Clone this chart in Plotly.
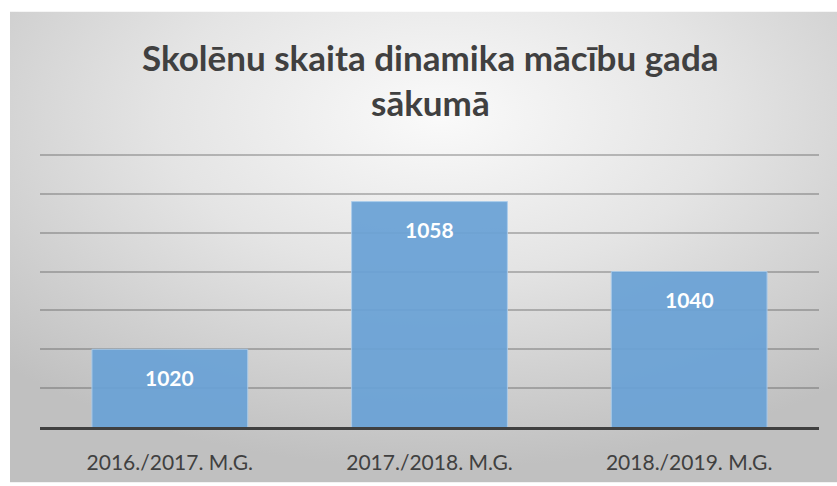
import base64
import plotly.graph_objects as go

categories = ["2016./2017. M.G.", "2017./2018. M.G.", "2018./2019. M.G."]
values = [1020, 1058, 1040]
title_line1 = "Skolēnu skaita dinamika mācību gada"
title_line2 = "sākumā"

W, H = 837, 486
L, R, T, B = 40, 18, 153, 56
pw, ph = W - L - R, H - T - B

def px_x(x):
    return (x - L) / pw

def px_y(y):
    return (H - B - y) / ph

svg = """<svg xmlns='http://www.w3.org/2000/svg' width='827' height='476' preserveAspectRatio='none'>
<defs><radialGradient id='g' cx='52%' cy='22%' r='75%' fx='52%' fy='22%'>
<stop offset='0' stop-color='#fafafa'/><stop offset='0.45' stop-color='#e4e4e4'/><stop offset='1' stop-color='#c0c0c0'/>
</radialGradient></defs><rect width='827' height='476' fill='url(#g)'/></svg>"""
src = "data:image/svg+xml;base64," + base64.b64encode(svg.encode()).decode()

fig = go.Figure()
fig.add_trace(go.Bar(
    x=categories, y=values, width=0.6,
    marker=dict(color="#6aa2d6", line=dict(color="#a8cbeb", width=1)),
    opacity=0.93, hoverinfo="skip",
))

annotations = []
for c, v in zip(categories, values):
    annotations.append(dict(x=c, y=v, xref="x", yref="y", text=f"<b>{v}</b>",
                            showarrow=False, yshift=-28,
                            font=dict(family="Lato", size=21, color="white")))
annotations.append(dict(x=px_x(430), y=px_y(56), xref="paper", yref="paper",
                        text=f"<b>{title_line1}</b>", showarrow=False,
                        xanchor="center", yanchor="middle",
                        font=dict(family="Lato", size=35, color="#404040")))
annotations.append(dict(x=px_x(431), y=px_y(101), xref="paper", yref="paper",
                        text=f"<b>{title_line2}</b>", showarrow=False,
                        xanchor="center", yanchor="middle",
                        font=dict(family="Lato", size=35, color="#404040")))

fig.update_layout(
    width=W, height=H,
    margin=dict(l=L, r=R, t=T, b=B, pad=0),
    paper_bgcolor="white",
    plot_bgcolor="rgba(0,0,0,0)",
    showlegend=False,
    bargap=0.4,
    annotations=annotations,
    images=[dict(source=src, xref="paper", yref="paper",
                 x=px_x(10), y=px_y(10), sizex=(W - 10) / pw, sizey=(H - 10) / ph,
                 xanchor="left", yanchor="top", sizing="stretch", layer="below")],
)
fig.update_xaxes(showline=True, linecolor="#404040", linewidth=3,
                 ticks="outside", ticklen=15, tickcolor="rgba(0,0,0,0)",
                 tickfont=dict(family="Lato", size=21, color="#404040"),
                 showgrid=False, fixedrange=True)
fig.update_yaxes(range=[1000, 1070.5], dtick=10, tick0=1000,
                 showticklabels=False, showgrid=True,
                 gridcolor="rgba(80,80,80,0.35)", gridwidth=1.5,
                 zeroline=False, fixedrange=True)

fig.write_html("out.html", config={"displayModeBar": False},
               post_script="document.body.style.margin='0';document.body.style.overflow='hidden';")
